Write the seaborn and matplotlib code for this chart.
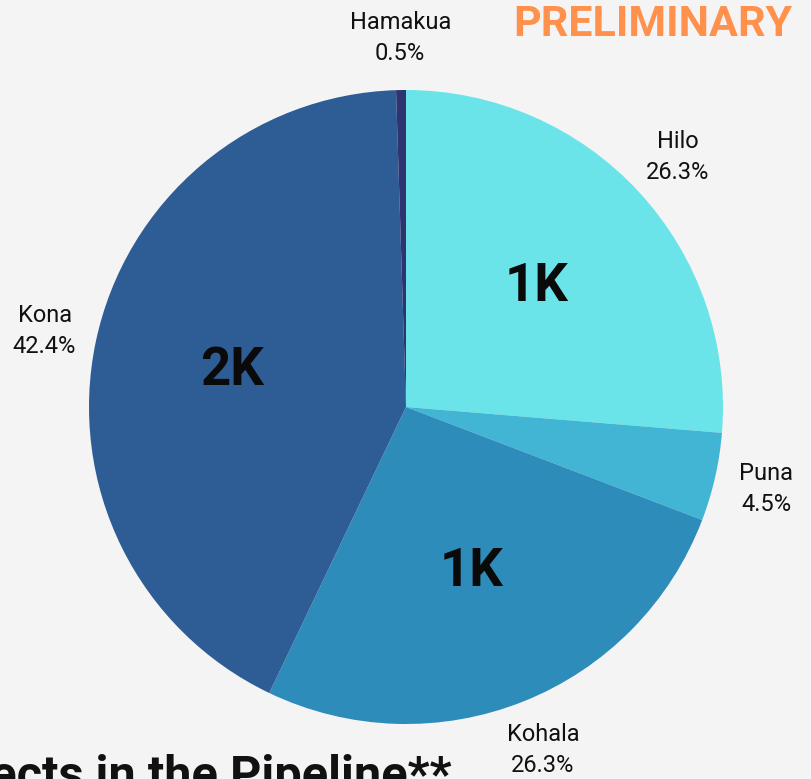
import seaborn as sns
import matplotlib.pyplot as plt
import numpy as np

regions = ["Hilo", "Puna", "Kohala", "Kona", "Hamakua"]
shares = [26.3, 4.5, 26.3, 42.4, 0.5]
inner_labels = ["1K", "", "1K", "2K", ""]
colors = ["#6AE4E8", "#42B4D4", "#2E8CBA", "#2E5C94", "#2E3470"]

sns.set_theme(style="white")
plt.rcParams["font.family"] = ["Roboto", "DejaVu Sans"]

fig = plt.figure(figsize=(8.12, 7.79), dpi=100)
fig.patch.set_facecolor("#F4F4F4")

cx, cy, r = 406, 779 - 407, 317
ax = fig.add_axes([(cx - r) / 812, (cy - r) / 779, 2 * r / 812, 2 * r / 779])
ax.set_facecolor("#F4F4F4")

outer = [f"{n}\n{s}%" for n, s in zip(regions, shares)]
wedges, texts = ax.pie(shares, labels=outer, colors=colors, startangle=90,
                       counterclock=False, labeldistance=1.165,
                       wedgeprops=dict(linewidth=0),
                       textprops=dict(fontsize=17, color="#111111"))
for t in texts:
    t.set_ha("center")
    t.set_va("center")
    t.set_linespacing(1.45)

for w, lab in zip(wedges, inner_labels):
    if not lab:
        continue
    mid = np.deg2rad((w.theta1 + w.theta2) / 2)
    ax.text(0.56 * np.cos(mid), 0.56 * np.sin(mid), lab, ha="center", va="center",
            fontsize=38, fontweight="bold", color="#0A0A0A")

ax.set_xlim(-1, 1)
ax.set_ylim(-1, 1)
ax.set_aspect("equal")
ax.axis("off")

fig.text(792 / 812, 1 - 25 / 779, "PRELIMINARY", ha="right", va="center",
         fontsize=31, fontweight="bold", color="#FF914D")
# title sits partly below/left of the canvas, as in the cropped source
fig.text(452 / 812, 1 - 790 / 779, "Projects in the Pipeline**", ha="right",
         va="baseline", fontsize=35, fontweight="bold", color="#111111")

fig.savefig("out.png", dpi=100, facecolor=fig.get_facecolor())
